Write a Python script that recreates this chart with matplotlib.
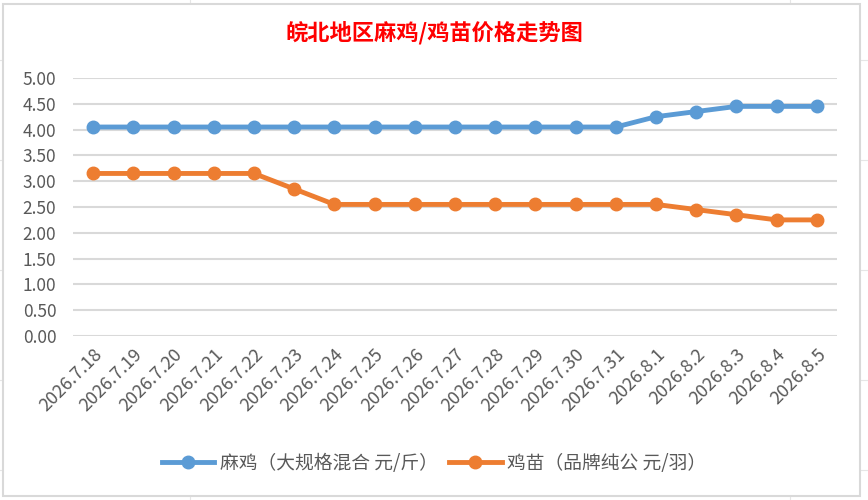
import matplotlib
matplotlib.use("Agg")
import matplotlib.pyplot as plt
from matplotlib.patches import Rectangle
from matplotlib.lines import Line2D

plt.rcParams['font.family'] = ['Noto Sans CJK SC', 'DejaVu Sans']

dates = ['2026.7.18', '2026.7.19', '2026.7.20', '2026.7.21', '2026.7.22', '2026.7.23',
         '2026.7.24', '2026.7.25', '2026.7.26', '2026.7.27', '2026.7.28', '2026.7.29',
         '2026.7.30', '2026.7.31', '2026.8.1', '2026.8.2', '2026.8.3', '2026.8.4', '2026.8.5']
maji = [4.05, 4.05, 4.05, 4.05, 4.05, 4.05, 4.05, 4.05, 4.05, 4.05, 4.05, 4.05,
        4.05, 4.05, 4.25, 4.35, 4.45, 4.45, 4.45]
jimiao = [3.15, 3.15, 3.15, 3.15, 3.15, 2.85, 2.55, 2.55, 2.55, 2.55, 2.55, 2.55,
          2.55, 2.55, 2.55, 2.45, 2.35, 2.25, 2.25]
yticks = [0, 0.5, 1, 1.5, 2, 2.5, 3, 3.5, 4, 4.5, 5]

blue = '#5B9BD5'
orange = '#ED7D31'
grey = '#595959'

fig = plt.figure(figsize=(8.68, 5.0), dpi=100)

# spreadsheet grid behind the chart
for x in [190, 790]:
    fig.add_artist(Line2D([x / 868, x / 868], [0, 1], color='#E6E6E6', lw=0.8, zorder=0.2))
for y in [60, 160, 270, 380, 470]:
    fig.add_artist(Line2D([0, 1], [1 - y / 500, 1 - y / 500], color='#E6E6E6', lw=0.8, zorder=0.2))
fig.add_artist(Rectangle((3 / 868, 4 / 500), 857 / 868, 492 / 500, facecolor='white',
                         edgecolor='#D9D9D9', lw=1.5, zorder=0.5))

ax = fig.add_axes([73 / 868, 1 - 336 / 500, 764 / 868, 258 / 500])
ax.set_zorder(2)
ax.set_facecolor('none')
x = list(range(len(dates)))
ax.plot(x, maji, color=blue, lw=3.5, marker='o', ms=9, label='麻鸡（大规格混合 元/斤）', zorder=3)
ax.plot(x, jimiao, color=orange, lw=3.5, marker='o', ms=9, label='鸡苗（品牌纯公 元/羽）', zorder=3)

ax.set_xlim(-0.5, len(dates) - 0.5)
ax.set_ylim(0, 5)
ax.set_yticks(yticks)
ax.set_yticklabels(['%.2f' % v for v in yticks])
ax.set_xticks(x)
ax.set_xticklabels(dates, rotation=45, ha='right', va='top', rotation_mode='anchor')
ax.tick_params(axis='both', length=0, colors=grey, labelsize=12.5)
ax.tick_params(axis='x', labelsize=13, pad=7)
ax.tick_params(axis='y', pad=12)
ax.grid(axis='y', color='#D9D9D9', lw=1.5)
ax.set_axisbelow(True)
for s in ax.spines.values():
    s.set_visible(False)

fig.text(0.5, 1 - 33 / 500, '皖北地区麻鸡/鸡苗价格走势图', color='red', fontsize=16,
         fontweight='bold', ha='center', va='center', zorder=3)

leg = fig.legend(loc='center', bbox_to_anchor=(0.5, 1 - 463 / 500), ncol=2, frameon=False,
                 fontsize=13.5, handlelength=2.8, columnspacing=0.6, handletextpad=0.3)
leg.set_zorder(3)
for t in leg.get_texts():
    t.set_color(grey)

fig.savefig('out.png', dpi=100)
